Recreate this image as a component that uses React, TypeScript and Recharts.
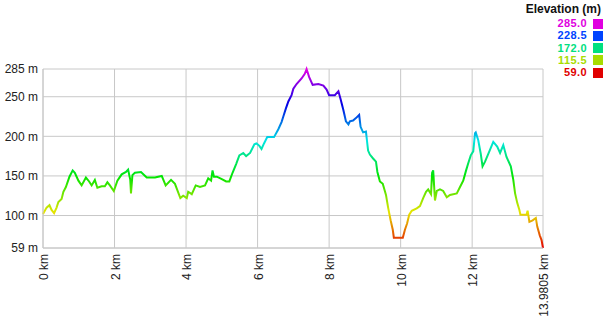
import { LineChart, Line, XAxis, YAxis, CartesianGrid } from "recharts";

// distance along the route (km) and elevation (m)
const distanceKm = [
  0, 0.1, 0.18, 0.24, 0.31, 0.38, 0.43, 0.52, 0.57, 0.64, 0.74, 0.83, 0.89, 0.99,
  1.08, 1.2, 1.29, 1.36, 1.45, 1.52, 1.64, 1.73, 1.8, 1.87, 1.98, 2.08, 2.2, 2.32,
  2.38, 2.44, 2.46, 2.5, 2.57, 2.74, 2.9, 3.13, 3.32, 3.43, 3.58, 3.69, 3.84, 3.92,
  4.02, 4.06, 4.16, 4.27, 4.39, 4.53, 4.62, 4.7, 4.74, 4.78, 4.86, 5.0, 5.12, 5.21,
  5.3, 5.4, 5.49, 5.6, 5.68, 5.79, 5.91, 5.97, 6.05, 6.11, 6.18, 6.27, 6.46, 6.58,
  6.67, 6.72, 6.79, 6.86, 6.95, 7.0, 7.09, 7.23, 7.32, 7.37, 7.44, 7.54, 7.7, 7.84,
  7.93, 8.0, 8.16, 8.26, 8.32, 8.4, 8.47, 8.54, 8.58, 8.67, 8.75, 8.84, 8.88, 8.95,
  9.03, 9.09, 9.14, 9.23, 9.31, 9.35, 9.42, 9.5, 9.59, 9.65, 9.72, 9.78, 9.81, 10.06,
  10.12, 10.18, 10.24, 10.31, 10.45, 10.54, 10.63, 10.71, 10.77, 10.85, 10.88, 10.91,
  10.96, 11.01, 11.1, 11.19, 11.29, 11.38, 11.57, 11.66, 11.75, 11.83, 11.89, 11.96,
  12.03, 12.08, 12.1, 12.17, 12.24, 12.29, 12.36, 12.48, 12.59, 12.7, 12.78, 12.87,
  12.96, 13.08, 13.15, 13.2, 13.26, 13.32, 13.35, 13.52, 13.55, 13.6, 13.69, 13.78,
  13.82, 13.89, 13.94, 13.9805,
];
const elevationM = [
  102, 110, 113, 107, 103, 110, 117, 121, 130, 136, 149, 157, 154, 144,
  138, 148, 143, 138, 145, 135, 137, 137, 142, 138, 131, 144, 152, 155,
  158, 145, 128, 151, 154, 155, 148, 148, 150, 138, 145, 140, 122, 125,
  122, 130, 127, 138, 136, 138, 147, 144, 157, 149, 149, 146, 143, 143,
  154, 165, 176, 179, 175, 179, 190, 191, 188, 184, 191, 199, 199, 209,
  218, 225, 235, 244, 252, 260, 266, 273, 279, 285, 275, 265, 266, 264,
  259, 252, 252, 257, 247, 233, 219, 215, 219, 220, 223, 227, 212, 205,
  206, 182, 177, 172, 168, 155, 143, 140, 126, 110, 94, 82, 72, 72,
  82, 90, 101, 106, 109, 112, 122, 130, 133, 127, 154, 157,
  119, 131, 133, 131, 123, 126, 128, 136, 144, 157, 166, 176,
  181, 204, 205, 195, 178, 162, 168, 181, 193, 187, 179, 189,
  174, 162, 145, 128, 116, 107, 101, 101, 106, 92, 94, 97,
  86, 75, 69, 59,
];

const xTicks = [0, 2, 4, 6, 8, 10, 12, 13.9805];
const yTicks = [59, 100, 150, 200, 250, 285];

const legendValues = ["285.0", "228.5", "172.0", "115.5", "59.0"];
const legendColors = ["#e000e0", "#0044ff", "#00e080", "#a8dc00", "#e00000"];

// hue stops for the elevation colouring, top (magenta) to bottom (red)
const hueStops = [300, 270, 240, 210, 180, 150, 120, 90, 60, 30, 0];

const data = distanceKm.map((d, i) => ({ d, ele: elevationM[i] }));

const FONT = "'Liberation Sans', Arial, sans-serif";

const XTick = (props: any) => {
  const { x, y, payload } = props;
  return (
    <text
      x={x}
      y={y}
      transform={`rotate(-90 ${x} ${y})`}
      textAnchor="end"
      dy={5}
      fill="#222"
      fontSize={12}
      fontFamily={FONT}
    >
      {payload.value} km
    </text>
  );
};

export default function App() {
  return (
    <div style={{ position: "absolute", left: 0, top: 0, width: 605, height: 320, background: "#fff", fontFamily: FONT }}>
      <LineChart width={605} height={320} data={data} margin={{ top: 69, right: 62, bottom: 0, left: 0 }}>
        <defs>
          <linearGradient id="elev" x1="0" y1="0" x2="0" y2="1">
            {hueStops.map(h => (
              <stop key={h} offset={1 - h / 300} stopColor={`hsl(${h}, 100%, 45%)`} />
            ))}
          </linearGradient>
        </defs>
        <CartesianGrid stroke="#c8c8c8" />
        <XAxis
          dataKey="d"
          type="number"
          domain={[0, 13.9805]}
          ticks={xTicks}
          interval={0}
          height={72}
          tickLine={false}
          tickSize={4}
          tickMargin={2}
          axisLine={{ stroke: "#c8c8c8" }}
          tick={<XTick />}
        />
        <YAxis
          type="number"
          domain={[59, 285]}
          ticks={yTicks}
          interval={0}
          width={43}
          tickLine={false}
          tickSize={3}
          tickMargin={2}
          axisLine={{ stroke: "#c8c8c8" }}
          tickFormatter={v => `${v} m`}
          tick={{ fill: "#222", fontSize: 12, fontFamily: FONT }}
        />
        <Line
          type="linear"
          dataKey="ele"
          stroke="url(#elev)"
          strokeWidth={2}
          dot={false}
          isAnimationActive={false}
        />
      </LineChart>

      <div style={{ position: "absolute", right: 4, top: 3, fontSize: 12, lineHeight: "12px", fontWeight: "bold", color: "#111" }}>
        Elevation (m)
      </div>
      {legendValues.map((v, i) => (
        <div key={v} style={{ position: "absolute", right: 2, top: 17.5 + i * 12.3, display: "flex", alignItems: "center", height: 12 }}>
          <span style={{ fontSize: 11, lineHeight: "11px", fontWeight: "bold", color: legendColors[i], marginRight: 6, letterSpacing: 0.4 }}>{v}</span>
          <span style={{ width: 10, height: 10, background: legendColors[i], display: "inline-block" }} />
        </div>
      ))}
    </div>
  );
}
